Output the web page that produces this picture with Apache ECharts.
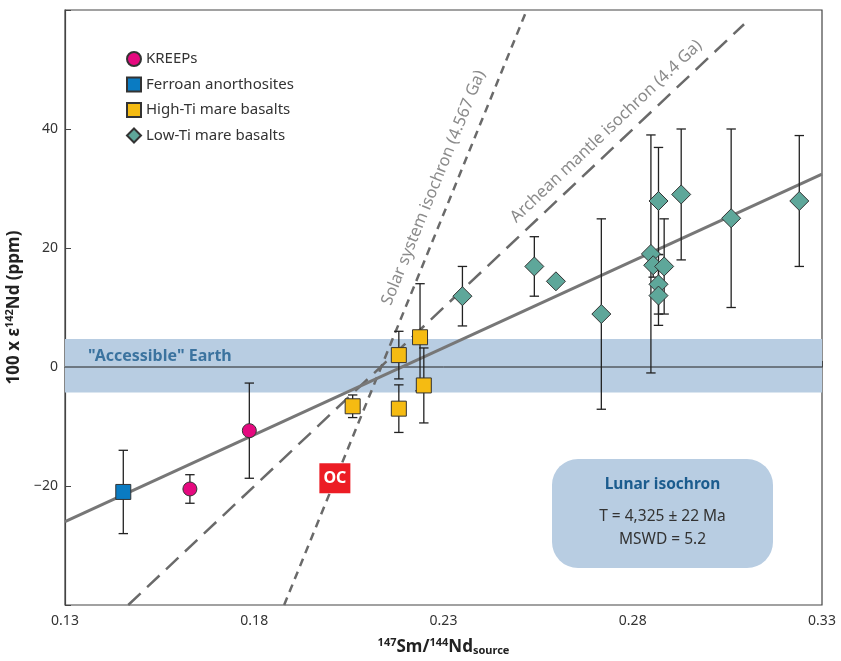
<!DOCTYPE html>
<html>
<head>
<meta charset="utf-8">
<script src="https://cdn.jsdelivr.net/npm/echarts@6/dist/echarts.min.js"></script>
<style>html,body{margin:0;padding:0;background:#fff}#c{width:841px;height:661px}</style>
</head>
<body>
<div id="c"></div>
<script>
// ---- data ----
var xTicks = [0.13, 0.18, 0.23, 0.28, 0.33];
var yTicks = [-20, 0, 20, 40];

var kreepX = [0.1630, 0.1787];
var kreepY = [-20.5, -10.7];
var kreepErr = [2.4, 8.0];

var faX = [0.1454];
var faY = [-21.0];
var faErr = [7.0];

var hiTiX = [0.2060, 0.2182, 0.2182, 0.2238, 0.2248];
var hiTiY = [-6.6, 2.0, -7.0, 5.0, -3.1];
var hiTiErr = [1.9, 4.0, 4.0, 9.0, 6.3];

var loTiX = [0.2350, 0.2540, 0.2597, 0.2717, 0.2848, 0.2854, 0.2868, 0.2868, 0.2868, 0.2883, 0.2928, 0.3060, 0.3240];
var loTiY = [11.9, 16.9, 14.4, 8.9, 19.0, 17.1, 27.9, 13.9, 12.0, 16.9, 29.0, 25.0, 27.9];
var loTiErr = [5, 5, 0, 16, 20, 2, 9, 5, 5, 8, 11, 15, 11];

var ocPoint = [0.2013, -18.7];

var lunarLine = [[0.13, -26.0], [0.33, 32.4]];
var solarLine = [[0.1879, -40], [0.2520, 60]];
var archeanLine = [[0.1467, -40], [0.3094, 57.6]];

var earthBand = [-4.3, 4.7];

var solarLabelPos = [0.2274, 30.1];
var archeanLabelPos = [0.2730, 39.6];
var earthLabelPos = [0.1361, 1.85];

// ---- build ----
function pts(xs, ys) { return xs.map(function (x, i) { return [x, ys[i]]; }); }
function errs(xs, ys, es) {
  var out = [];
  xs.forEach(function (x, i) { if (es[i] > 0) out.push([x, ys[i] - es[i], ys[i] + es[i]]); });
  return out;
}
var errData = [].concat(errs(faX, faY, faErr), errs(kreepX, kreepY, kreepErr),
  errs(hiTiX, hiTiY, hiTiErr), errs(loTiX, loTiY, loTiErr));

var FONT = 'Noto Sans';
var chart = echarts.init(document.getElementById('c'), null, { renderer: 'canvas' });

function textLabel(name, pos, lbl) {
  return { type: 'scatter', name: name, data: [pos], symbolSize: 1, z: 6, silent: true,
    itemStyle: { color: 'rgba(0,0,0,0)' }, label: lbl };
}

var opt = {
  animation: false,
  textStyle: { fontFamily: FONT },
  grid: { left: 65, right: 19, top: 10, bottom: 56, show: true, borderColor: '#444', borderWidth: 1.2,
    containLabel: false, outerBoundsMode: 'none' },
  legend: {
    orient: 'vertical', left: 121, top: 46, itemWidth: 14, itemHeight: 14, itemGap: 9.5,
    textStyle: { fontFamily: FONT, fontSize: 15, color: '#333' },
    data: ['KREEPs', 'Ferroan anorthosites', 'High-Ti mare basalts', 'Low-Ti mare basalts']
  },
  xAxis: {
    type: 'value', min: 0.13, max: 0.33, interval: 0.05,
    axisLine: { lineStyle: { color: '#444', width: 1.2 } },
    axisTick: { inside: true, length: 6, lineStyle: { color: '#444' } },
    splitLine: { show: false },
    axisLabel: { margin: 9, fontSize: 14, color: '#333', fontFamily: FONT,
      formatter: function (v) { return v.toFixed(2); } },
    name: '{sup|147}Sm/{sup|144}Nd{sub|source}', nameLocation: 'middle', nameGap: 32,
    nameTextStyle: { fontSize: 17, fontWeight: 'bold', color: '#222', fontFamily: FONT,
      rich: {
        sup: { fontSize: 11, fontWeight: 'bold', color: '#222', padding: [0, 0, 9, 0] },
        sub: { fontSize: 11, fontWeight: 'bold', color: '#222', padding: [8, 0, 0, 0] }
      } }
  },
  yAxis: {
    type: 'value', min: -40, max: 60, interval: 20,
    axisLine: { lineStyle: { color: '#444', width: 1.2 } },
    axisTick: { inside: true, length: 6, lineStyle: { color: '#444' } },
    splitLine: { show: false },
    axisLabel: { margin: 7, fontSize: 14, color: '#333', fontFamily: FONT,
      formatter: function (v) {
        if (yTicks.indexOf(v) < 0) return '';
        return v < 0 ? '\u2212' + Math.abs(v) : String(v);
      } },
    name: '100 x \u03b5{sup|142}Nd (ppm)', nameLocation: 'middle', nameGap: 36,
    nameTextStyle: { fontSize: 17, fontWeight: 'bold', color: '#222', fontFamily: FONT,
      rich: { sup: { fontSize: 11, fontWeight: 'bold', color: '#222', padding: [0, 0, 9, 0] } } }
  },
  series: [
    { // band + zero line
      type: 'line', name: 'zero', data: [[0.13, 0], [0.33, 0]], symbol: 'none', z: 1,
      lineStyle: { color: '#222', width: 1 }, silent: true,
      markArea: { silent: true, itemStyle: { color: '#b8cde2' },
        data: [[{ yAxis: earthBand[0] }, { yAxis: earthBand[1] }]] }
    },
    { type: 'line', name: 'solar', data: solarLine, symbol: 'none', z: 2,
      lineStyle: { color: '#6a6a6a', width: 2.5, type: [8, 6] } },
    { type: 'line', name: 'archean', data: archeanLine, symbol: 'none', z: 2,
      lineStyle: { color: '#6a6a6a', width: 2.5, type: [17, 9] } },
    { type: 'line', name: 'lunar', data: lunarLine, symbol: 'none', z: 3,
      lineStyle: { color: '#777', width: 3 } },
    { type: 'custom', name: 'err', data: errData, z: 4,
      encode: { x: 0, y: [1, 2] },
      renderItem: function (params, api) {
        var x = api.value(0), lo = api.value(1), hi = api.value(2);
        var a = api.coord([x, hi]), b = api.coord([x, lo]);
        var w = 4.7, st = { stroke: '#222', lineWidth: 1.3 };
        return { type: 'group', children: [
          { type: 'line', shape: { x1: a[0], y1: a[1], x2: b[0], y2: b[1] }, style: st },
          { type: 'line', shape: { x1: a[0] - w, y1: a[1], x2: a[0] + w, y2: a[1] }, style: st },
          { type: 'line', shape: { x1: b[0] - w, y1: b[1], x2: b[0] + w, y2: b[1] }, style: st }
        ] };
      } },
    { type: 'scatter', name: 'KREEPs', data: pts(kreepX, kreepY), symbol: 'circle', symbolSize: 14, z: 5,
      itemStyle: { color: '#e5097f', borderColor: '#333', borderWidth: 1, opacity: 1 } },
    { type: 'scatter', name: 'Ferroan anorthosites', data: pts(faX, faY), symbol: 'rect', symbolSize: 15, z: 5,
      itemStyle: { color: '#0a7bc2', borderColor: '#333', borderWidth: 1, opacity: 1 } },
    { type: 'scatter', name: 'High-Ti mare basalts', data: pts(hiTiX, hiTiY), symbol: 'rect', symbolSize: 15, z: 5,
      itemStyle: { color: '#f5bb12', borderColor: '#333', borderWidth: 1, opacity: 1 } },
    { type: 'scatter', name: 'Low-Ti mare basalts', data: pts(loTiX, loTiY), symbol: 'diamond', symbolSize: 19, z: 5,
      itemStyle: { color: '#5ea79a', borderColor: '#333', borderWidth: 1, opacity: 1 } },
    { type: 'scatter', name: 'OC', data: [ocPoint], symbol: 'rect', symbolSize: [31, 30], z: 6, silent: true,
      itemStyle: { color: '#ec1c24', opacity: 1 },
      label: { show: true, position: 'inside', formatter: 'OC', color: '#fff', fontWeight: 'bold', fontSize: 16, fontFamily: FONT } },
    textLabel('lbl1', solarLabelPos, { show: true, position: 'inside', rotate: 68,
      formatter: 'Solar system isochron (4.567 Ga)', color: '#6e6e6e', fontSize: 16.5, fontFamily: FONT }),
    textLabel('lbl2', archeanLabelPos, { show: true, position: 'inside', rotate: 43.5,
      formatter: 'Archean mantle isochron (4.4 Ga)', color: '#6e6e6e', fontSize: 16.5, fontFamily: FONT }),
    textLabel('lbl3', earthLabelPos, { show: true, position: 'inside', align: 'left',
      formatter: '"Accessible" Earth', color: '#1b5c8e', fontSize: 16, fontWeight: 'bold', fontFamily: FONT })
  ],
  graphic: [{
    type: 'group', left: 552, top: 459,
    children: [
      { type: 'rect', shape: { x: 0, y: 0, width: 221, height: 109, r: 26 }, style: { fill: '#b8cde2' } },
      { type: 'text', x: 110.5, y: 26, style: { text: 'Lunar isochron', fill: '#1b5c8e', fontSize: 15.5, fontWeight: 'bold',
        fontFamily: FONT, align: 'center', verticalAlign: 'middle' } },
      { type: 'text', x: 110.5, y: 58, style: { text: 'T = 4,325 \u00b1 22 Ma', fill: '#333', fontSize: 15.5,
        fontFamily: FONT, align: 'center', verticalAlign: 'middle' } },
      { type: 'text', x: 110.5, y: 81, style: { text: 'MSWD = 5.2', fill: '#333', fontSize: 15.5,
        fontFamily: FONT, align: 'center', verticalAlign: 'middle' } }
    ]
  }]
};
chart.setOption(opt);
</script>
</body>
</html>
